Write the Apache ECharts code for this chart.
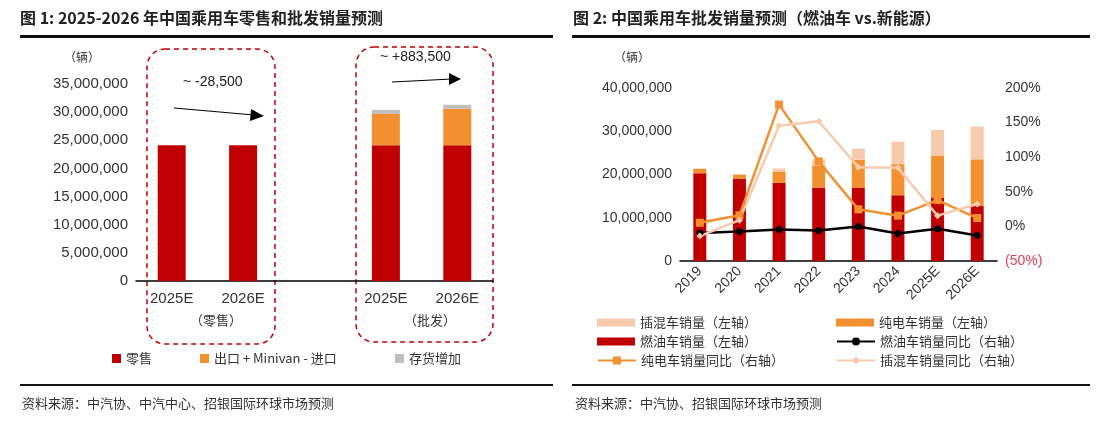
<!DOCTYPE html><html><head><meta charset="utf-8"><script src="https://cdn.jsdelivr.net/npm/echarts@6/dist/echarts.min.js"></script>
<style>html,body{margin:0;background:#fff}#c{width:1098px;height:428px}</style></head><body><div id="c"></div><script>
const leftCats=['2025E','2026E','','2025E','2026E'];
const retail=[24.1e6,24.1e6,null,24.1e6,24.1e6];
const exportNet=[null,null,null,5.6e6,6.5e6];
const inventory=[null,null,null,0.7e6,0.7e6];
const years=['2019','2020','2021','2022','2023','2024','2025E','2026E'];
const fuel=[20.3e6,19.0e6,18.1e6,17.0e6,17.0e6,15.2e6,14.7e6,12.7e6];
const bev=[1.0e6,1.0e6,2.6e6,5.1e6,6.4e6,7.2e6,9.7e6,10.8e6];
const phev=[0.1e6,0.1e6,0.7e6,1.4e6,2.6e6,5.2e6,5.9e6,7.6e6];
const fuelYoy=[-9.7,-7.3,-4.4,-5.8,0,-10.2,-3.4,-13];
const bevYoy=[5.3,16,176,94,24.7,15.5,38,12];
const phevYoy=[-14,9,145.6,152,85.6,84.6,15.5,32.4];
const RED='#C00000',OR='#F39130',LT='#F8CBAD',GR='#BFBFBF';
const F='"Liberation Sans",Arial,sans-serif', CJK='"Noto Sans CJK SC",sans-serif';
const fmt=v=>v.toLocaleString('en-US');
const ax={axisLine:{lineStyle:{color:'#000',width:1.5}},axisTick:{lineStyle:{color:'#000'},length:5},splitLine:{show:false},axisLabel:{color:'#333',fontSize:14,fontFamily:F}};
const leg=(name,left,top,icon,w,h)=>{const o={data:[name],left,top,orient:'horizontal',itemWidth:w,itemHeight:h,textStyle:{fontFamily:CJK,fontSize:13,color:'#333'},itemGap:0,padding:0,selectedMode:false};if(icon)o.icon=icon;return o;};
const chart=echarts.init(document.getElementById('c'));
chart.setOption({animation:false,
grid:[{left:136,right:1098-493,top:84,bottom:428-281},{left:680,right:1098-997,top:88,bottom:428-261}],
xAxis:[Object.assign({},ax,{type:'category',gridIndex:0,data:leftCats,axisTick:{length:6,lineStyle:{color:'#000'}},axisLabel:Object.assign({},ax.axisLabel,{fontSize:15,margin:10})}),
Object.assign({},ax,{type:'category',gridIndex:1,data:years,axisLabel:Object.assign({},ax.axisLabel,{rotate:45,margin:8})})],
yAxis:[Object.assign({},ax,{type:'value',gridIndex:0,min:0,max:35e6,interval:5e6,axisLabel:Object.assign({},ax.axisLabel,{formatter:fmt,fontSize:15})}),
Object.assign({},ax,{type:'value',gridIndex:1,min:0,max:40e6,interval:10e6,axisLabel:Object.assign({},ax.axisLabel,{formatter:fmt})}),
Object.assign({},ax,{type:'value',gridIndex:1,position:'right',min:-50,max:200,interval:50,axisLabel:Object.assign({},ax.axisLabel,{formatter:v=>v<0?'{r|('+(-v)+'%)}':v+'%',rich:{r:{color:'#E0405A',fontSize:14,fontFamily:F}}})})],
legend:[
leg('零售',112,352,'rect',9,9),leg('出口 + Minivan - 进口',200,352,'rect',9,9),leg('存货增加',395,352,'rect',9,9),
leg('插混车销量（左轴）',597,316,'rect',38,8),leg('纯电车销量（左轴）',836,316,'rect',38,8),
leg('燃油车销量（左轴）',597,335,'rect',38,8),leg('燃油车销量同比（右轴）',836,335,null,38,10),
leg('纯电车销量同比（右轴）',597,354,null,38,10),leg('插混车销量同比（右轴）',836,354,null,38,10)],
series:[
{name:'零售',type:'bar',stack:'l',xAxisIndex:0,yAxisIndex:0,data:retail,barWidth:28,itemStyle:{color:RED}},
{name:'出口 + Minivan - 进口',type:'bar',stack:'l',xAxisIndex:0,yAxisIndex:0,data:exportNet,barWidth:28,itemStyle:{color:OR}},
{name:'存货增加',type:'bar',stack:'l',xAxisIndex:0,yAxisIndex:0,data:inventory,barWidth:28,itemStyle:{color:GR}},
{name:'燃油车销量（左轴）',type:'bar',stack:'r',xAxisIndex:1,yAxisIndex:1,data:fuel,barWidth:13,itemStyle:{color:RED}},
{name:'纯电车销量（左轴）',type:'bar',stack:'r',xAxisIndex:1,yAxisIndex:1,data:bev,barWidth:13,itemStyle:{color:OR}},
{name:'插混车销量（左轴）',type:'bar',stack:'r',xAxisIndex:1,yAxisIndex:1,data:phev,barWidth:13,itemStyle:{color:LT}},
{name:'燃油车销量同比（右轴）',type:'line',xAxisIndex:1,yAxisIndex:2,data:fuelYoy,symbol:'circle',symbolSize:7,lineStyle:{color:'#000',width:2.5},itemStyle:{color:'#000'}},
{name:'纯电车销量同比（右轴）',type:'line',xAxisIndex:1,yAxisIndex:2,data:bevYoy,symbol:'rect',symbolSize:8,lineStyle:{color:OR,width:2.5},itemStyle:{color:OR}},
{name:'插混车销量同比（右轴）',type:'line',xAxisIndex:1,yAxisIndex:2,data:phevYoy,symbol:'diamond',symbolSize:7,lineStyle:{color:LT,width:2.5},itemStyle:{color:LT}}],
graphic:[
{type:'text',left:20,top:10,style:{text:'图 1: 2025-2026 年中国乘用车零售和批发销量预测',font:'bold 16px '+CJK,fill:'#222'}},
{type:'text',left:573,top:10,style:{text:'图 2: 中国乘用车批发销量预测（燃油车 vs.新能源）',font:'bold 16px '+CJK,fill:'#222'}},
{type:'rect',shape:{x:20,y:35,width:533,height:3},style:{fill:'#111'}},
{type:'rect',shape:{x:572,y:35,width:518,height:3},style:{fill:'#111'}},
{type:'rect',shape:{x:20,y:384,width:533,height:2},style:{fill:'#111'}},
{type:'rect',shape:{x:572,y:384,width:518,height:2},style:{fill:'#111'}},
{type:'text',left:22,top:397,style:{text:'资料来源：中汽协、中汽中心、招银国际环球市场预测',font:'13px '+CJK,fill:'#333'}},
{type:'text',left:575,top:397,style:{text:'资料来源：中汽协、招银国际环球市场预测',font:'13px '+CJK,fill:'#333'}},
{type:'text',left:64,top:51,style:{text:'（辆）',font:'12px '+CJK,fill:'#333'}},
{type:'text',left:614,top:51,style:{text:'（辆）',font:'12px '+CJK,fill:'#333'}},
{type:'text',left:190,top:314,style:{text:'（零售）',font:'13px '+CJK,fill:'#333'}},
{type:'text',left:404,top:314,style:{text:'（批发）',font:'13px '+CJK,fill:'#333'}},
{type:'rect',shape:{x:147,y:49,width:128,height:295,r:18},style:{fill:'none',stroke:'#C00000',lineWidth:1.5,lineDash:[5,4]}},
{type:'rect',shape:{x:356,y:47,width:137,height:295,r:18},style:{fill:'none',stroke:'#C00000',lineWidth:1.5,lineDash:[5,4]}},
{type:'text',left:183,top:75,style:{text:'~ -28,500',font:'14px '+F,fill:'#222'}},
{type:'text',left:380,top:50,style:{text:'~ +883,500',font:'14px '+F,fill:'#222'}},
{type:'line',shape:{x1:174,y1:108,x2:254,y2:115},style:{stroke:'#000',lineWidth:1}},
{type:'polygon',shape:{points:[[264,116],[251,109],[250,121]]},style:{fill:'#000'}},
{type:'line',shape:{x1:392,y1:82,x2:452,y2:79},style:{stroke:'#000',lineWidth:1}},
{type:'polygon',shape:{points:[[461,79],[449,73],[449,85]]},style:{fill:'#000'}}
]});
</script></body></html>
